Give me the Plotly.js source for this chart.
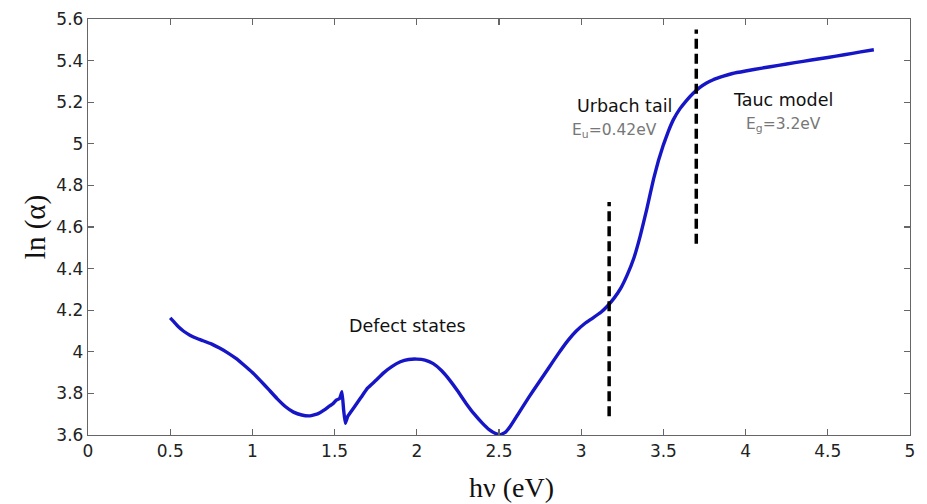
<!DOCTYPE html>
<html><head><meta charset="utf-8">
<script src="https://cdn.plot.ly/plotly-3.0.1.min.js"></script>
<style>html,body{margin:0;padding:0;background:#fff}#chart{width:927px;height:504px}</style>
</head><body><div id="chart"></div>
<script>
const hv = [0.50,0.52,0.55,0.58,0.62,0.66,0.70,0.75,0.80,0.85,0.90,0.95,1.00,1.05,1.10,1.15,1.20,1.25,1.30,1.35,1.40,1.44,1.47,1.49,1.51,1.53,1.545,1.555,1.565,1.58,1.62,1.66,1.70,1.75,1.80,1.85,1.90,1.95,2.00,2.05,2.10,2.15,2.20,2.25,2.30,2.35,2.40,2.44,2.48,2.51,2.54,2.57,2.62,2.68,2.74,2.80,2.86,2.92,2.97,3.02,3.07,3.12,3.16,3.20,3.24,3.28,3.32,3.36,3.40,3.44,3.47,3.50,3.53,3.56,3.60,3.64,3.68,3.72,3.76,3.80,3.86,3.92,4.00,4.10,4.20,4.30,4.40,4.50,4.60,4.70,4.78];
const lnAlpha = [4.163,4.146,4.12,4.100,4.080,4.065,4.053,4.038,4.018,3.995,3.968,3.935,3.900,3.860,3.818,3.775,3.737,3.710,3.696,3.692,3.703,3.722,3.740,3.750,3.768,3.775,3.808,3.72,3.656,3.690,3.735,3.78,3.825,3.862,3.90,3.93,3.952,3.963,3.965,3.96,3.943,3.91,3.864,3.81,3.752,3.70,3.656,3.626,3.607,3.602,3.614,3.643,3.705,3.78,3.85,3.92,3.99,4.055,4.10,4.135,4.162,4.19,4.22,4.258,4.305,4.37,4.45,4.56,4.69,4.83,4.92,4.995,5.06,5.115,5.168,5.208,5.242,5.270,5.291,5.307,5.324,5.338,5.35,5.364,5.377,5.39,5.403,5.415,5.428,5.442,5.452];
const urbachX = [3.17, 3.17];
const urbachY = [3.69, 4.72];
const taucX = [3.70, 3.70];
const taucY = [4.52, 5.55];
const xTicks = [0,0.5,1,1.5,2,2.5,3,3.5,4,4.5,5];
const xTickText = ['0','0.5','1','1.5','2','2.5','3','3.5','4','4.5','5'];
const yTicks = [3.6,3.8,4,4.2,4.4,4.6,4.8,5,5.2,5.4,5.6];
const yTickText = ['3.6','3.8','4','4.2','4.4','4.6','4.8','5','5.2','5.4','5.6'];

const traces = [
  {x: hv, y: lnAlpha, mode: 'lines', line: {color: '#1616c6', width: 3.4, shape: 'spline', smoothing: 0.3}, hoverinfo: 'skip'},
  {x: urbachX, y: urbachY, mode: 'lines', line: {color: '#000', width: 3.5, dash: '10px,5px'}, hoverinfo: 'skip'},
  {x: taucX, y: taucY, mode: 'lines', line: {color: '#000', width: 3.5, dash: '10px,5px'}, hoverinfo: 'skip'}
];
const sans = 'DejaVu Sans, Arial, sans-serif';
const serif = 'Liberation Serif, Times New Roman, serif';
const tickFont = {family: sans, size: 17, color: '#222'};
const axisCommon = {
  showgrid: false, zeroline: false, showline: true, linecolor: '#666', linewidth: 1.2,
  mirror: 'ticks', ticks: 'inside', ticklen: 6, tickcolor: '#666', tickwidth: 1.2, tickfont: tickFont
};
const layout = {
  width: 927, height: 504,
  margin: {l: 88, r: 17, t: 19, b: 69},
  paper_bgcolor: '#fff', plot_bgcolor: '#fff',
  showlegend: false,
  xaxis: Object.assign({}, axisCommon, {range: [0, 5], tickvals: xTicks, ticktext: xTickText}),
  yaxis: Object.assign({}, axisCommon, {
    range: [3.6, 5.6], tickvals: yTicks, ticktext: yTickText,
    title: {text: 'ln (α)', font: {family: serif, size: 29, color: '#111'}, standoff: 2}
  }),
  annotations: [
    {xref: 'paper', yref: 'paper', x: 0.5146, y: -0.125, yanchor: 'middle', text: 'hν (eV)', showarrow: false, font: {family: serif, size: 28, color: '#111'}},
    {x: 1.943, y: 4.124, text: 'Defect states', showarrow: false, font: {family: sans, size: 17.5, color: '#111'}},
    {x: 3.263, y: 5.182, text: 'Urbach tail', showarrow: false, font: {family: sans, size: 17.5, color: '#111'}},
    {x: 3.20, y: 5.062, text: 'E<sub>u</sub>=0.42eV', showarrow: false, font: {family: sans, size: 15.5, color: '#777'}},
    {x: 4.23, y: 5.211, text: 'Tauc model', showarrow: false, font: {family: sans, size: 17.5, color: '#111'}},
    {x: 4.23, y: 5.092, text: 'E<sub>g</sub>=3.2eV', showarrow: false, font: {family: sans, size: 15.5, color: '#777'}}
  ]
};
Plotly.newPlot('chart', traces, layout, {displayModeBar: false, staticPlot: true});
</script></body></html>
